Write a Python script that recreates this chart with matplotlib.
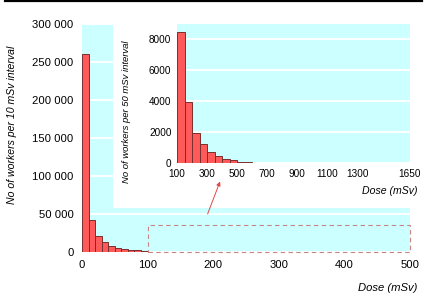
import matplotlib
matplotlib.use("Agg")
import matplotlib.pyplot as plt
from matplotlib.patches import Rectangle
from matplotlib.lines import Line2D

plt.rcParams['font.family'] = ['Liberation Sans', 'DejaVu Sans']

# Donnees principales : travailleurs par intervalle de 10 mSv
main_bins = [0, 10, 20, 30, 40, 50, 60, 70, 80, 90, 100]
main_counts = [260000, 41700, 21500, 13600, 8300, 5700, 3900, 3100, 2200, 1700, 600]
main_xticks = [0, 100, 200, 300, 400, 500]
main_yticks = [0, 50000, 100000, 150000, 200000, 250000, 300000]
main_ylabels = ['0', '50 000', '100 000', '150 000', '200 000', '250 000', '300 000']

# Encart : travailleurs par intervalle de 50 mSv
inset_bins = [100, 150, 200, 250, 300, 350, 400, 450, 500, 550, 600, 650, 700, 750,
              800, 850, 900, 950, 1000, 1050, 1150, 1250, 1450, 1600]
inset_counts = [8500, 3970, 1970, 1200, 730, 470, 260, 170, 85, 40, 30, 22, 16, 12,
                10, 8, 6, 5, 4, 4, 3, 3, 2, 2]
inset_xticks = [100, 300, 500, 700, 900, 1100, 1300, 1650]
inset_yticks = [0, 2000, 4000, 6000, 8000]

W, H = 426, 296
cyan = '#ccffff'
red = '#ff5a5a'
edge = '#7a2e2e'

fig = plt.figure(figsize=(W / 100, H / 100), dpi=100)

def box(x0, y0, x1, y1):
    return [x0 / W, 1 - y1 / H, (x1 - x0) / W, (y1 - y0) / H]

# Graphique principal
ax = fig.add_axes(box(82, 24, 410, 252), zorder=0)
ax.set_facecolor(cyan)
ax.bar(main_bins, main_counts, width=10, align='edge', color=red, edgecolor=edge, linewidth=0.7, zorder=3)
ax.set_xlim(0, 500)
ax.set_ylim(0, 300000)
ax.set_xticks(main_xticks)
ax.set_yticks(main_yticks)
ax.set_yticklabels(main_ylabels)
ax.yaxis.grid(True, color='white', linewidth=1.3)
ax.set_axisbelow(True)
for s in ax.spines.values():
    s.set_visible(False)
ax.tick_params(length=0, labelsize=8.1, pad=6)
ax.set_ylabel('No of workers per 10 mSv interval', fontstyle='italic', fontsize=7.6)
ax.yaxis.set_label_coords(-0.198, 0.56)
ax.add_patch(Rectangle((100, 0), 400, 36000, fill=False, edgecolor='#c98484',
                       linestyle=(0, (4, 3)), linewidth=0.8, zorder=4, clip_on=False))
fig.text(417 / W, 1 - 288 / H, 'Dose (mSv)', ha='right', va='center', fontstyle='italic', fontsize=8.1)

# Fond blanc derriere l'encart
fig.add_artist(Rectangle((113 / W, 1 - 208 / H), (426 - 113) / W, (208 - 20) / H,
                         transform=fig.transFigure, facecolor='white', edgecolor='none', zorder=1))

# Encart
ax_in = fig.add_axes(box(177, 24, 410, 163), zorder=2)
ax_in.set_facecolor(cyan)
ax_in.bar(inset_bins, inset_counts, width=50, align='edge', color=red, edgecolor=edge, linewidth=0.7, zorder=3)
ax_in.set_xlim(100, 1650)
ax_in.set_ylim(0, 9000)
ax_in.set_xticks(inset_xticks)
ax_in.set_yticks(inset_yticks)
ax_in.yaxis.grid(True, color='white', linewidth=1.3)
ax_in.set_axisbelow(True)
for s in ax_in.spines.values():
    s.set_visible(False)
ax_in.tick_params(length=0, labelsize=7.2, pad=4)
ax_in.set_ylabel('No of workers per 50 mSv interval', fontstyle='italic', fontsize=6.8)
ax_in.yaxis.set_label_coords(-0.197, 0.367)
fig.text(417 / W, 1 - 191 / H, 'Dose (mSv)', ha='right', va='center', fontstyle='italic', fontsize=7.6)

# Fleche
ax_in.annotate('', xy=(393, -1030), xycoords='data', xytext=(190, 46700), textcoords=ax.transData,
               arrowprops=dict(arrowstyle='-|>', color='#e04848', lw=0.7, mutation_scale=6),
               annotation_clip=False)

# Trait noir en haut
fig.add_artist(Line2D([5 / W, 422 / W], [1 - 0.8 / H, 1 - 0.8 / H], color='black', linewidth=1.6))

fig.savefig('out.png', dpi=100)
